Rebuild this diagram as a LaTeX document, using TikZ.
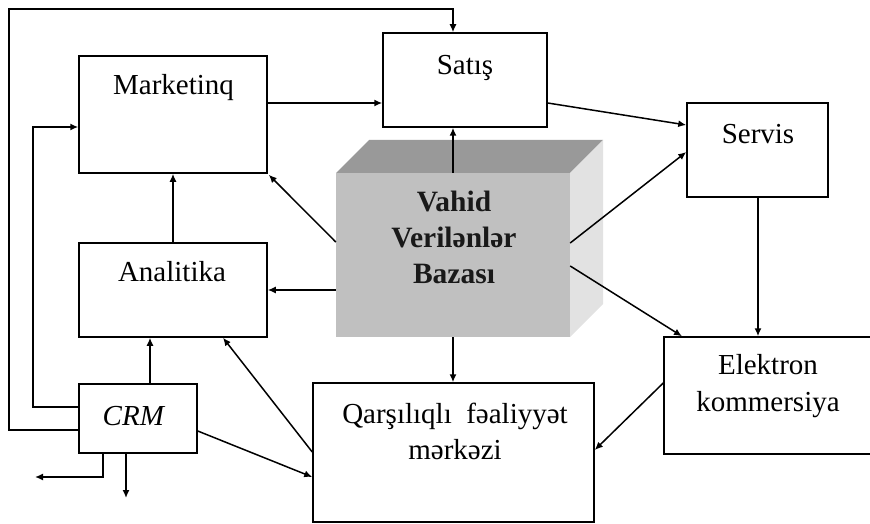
\documentclass[tikz,border=0pt]{standalone}
\usepackage{fontspec}
\setmainfont{Liberation Serif}
\usetikzlibrary{arrows.meta,calc}
\definecolor{cubefront}{HTML}{C0C0C0}
\definecolor{cubetop}{HTML}{999999}
\definecolor{cubeside}{HTML}{E2E2E2}
\begin{document}
\begin{tikzpicture}[x=1pt,y=-1pt,
  box/.style={draw, line width=1.5pt, inner sep=0pt, fill=white},
  lbl/.style={anchor=base, inner sep=0pt, font=\fontsize{29}{36}\selectfont},
  blbl/.style={lbl, font=\fontsize{29.5}{36}\selectfont\bfseries, text=black!90},
  arr/.style={line width=1.5pt, -{Latex[length=8pt,width=7pt]}},
  ln/.style={line width=1.5pt}]
\useasboundingbox (0,0) rectangle (870,524);

% boxes
\node[box, minimum width=188pt, minimum height=117pt] (mk) at (173,114.5) {};
\node[box, minimum width=188pt, minimum height=94pt] (an) at (173,290) {};
\node[box, minimum width=164pt, minimum height=94pt] (sat) at (465,80) {};
\node[box, minimum width=141pt, minimum height=94pt] (srv) at (757.5,150) {};
\node[box, minimum width=210pt, minimum height=117pt] (ek) at (769,395.5) {};
\node[box, minimum width=281pt, minimum height=139pt] (qf) at (453.5,452.5) {};
\node[box, minimum width=118pt, minimum height=69pt] (crm) at (138,418.5) {};

% cube (database)
\fill[cubetop] (336,173) -- (369,140) -- (603,140) -- (570,173) -- cycle;
\fill[cubeside] (570,173) -- (603,140) -- (603,304) -- (570,337) -- cycle;
\node[fill=cubefront, inner sep=0pt, minimum width=234pt, minimum height=164pt] (db) at (453,255) {};

% texts
\node[lbl] (tmk) at (173.5,95) {Marketinq};
\node[lbl] (tsat) at (465,75) {Satış};
\node[lbl] (tsrv) at (758,144) {Servis};
\node[lbl] (tan) at (172,281) {Analitika};
\node[lbl] (tcrm) at (134,425) {\textit{CRM}};
\node[lbl] (tek1) at (768,374) {Elektron};
\node[lbl] (tek2) at (768,411) {kommersiya};
\node[lbl] (tqf1) at (455,423) {Qarşılıqlı\hspace{0.5em}fəaliyyət};
\node[lbl] (tqf2) at (455,459) {mərkəzi};
\node[blbl] (tdb1) at (454,211) {Vahid};
\node[blbl] (tdb2) at (454,247) {Verilənlər};
\node[blbl] (tdb3) at (454,283) {Bazası};

% connectors
\draw[arr] (crm.west |- 0,430) -- (9,430) -- (9,9) -- (453,9) -- (453,0 |- sat.north);
\draw[arr] (crm.west |- 0,407) -- (33,407) -- (33,127) -- (mk.west |- 0,127);
\draw[arr] (150,0 |- crm.north) -- (150,0 |- an.south);
\draw[arr] (an.north) -- (mk.south);
\draw[arr] (mk.east |- 0,103) -- (sat.west |- 0,103);
\draw[arr] (db.north) -- (db.north |- sat.south);
\draw[arr] (db.west |- 0,242) -- ($(mk.south east)+(1,1)$);
\draw[arr] (db.west |- 0,290) -- (an.east |- 0,290);
\draw[arr] (db.south) -- (db.south |- qf.north);
\draw[arr] (db.east |- 0,243) -- (srv.west |- 0,152);
\draw[arr] (db.east |- 0,266) -- (682,0 |- ek.north);
\draw[arr] (sat.east |- 0,103) -- (srv.west |- 0,125);
\draw[arr] (758,0 |- srv.south) -- (758,0 |- ek.north);
\draw[arr] (ek.west |- 0,383) -- (qf.east |- 0,450);
\draw[arr] (qf.west |- 0,452) -- (223,0 |- an.south);
\draw[arr] (crm.east |- 0,431) -- (qf.west |- 0,477);
\coordinate (outl) at (35,477);
\coordinate (outd) at (126,498);
\draw[arr] (103,0 |- crm.south) -- (103,477) -- (outl);
\draw[arr] (126,0 |- crm.south) -- (outd);
\end{tikzpicture}
\end{document}
